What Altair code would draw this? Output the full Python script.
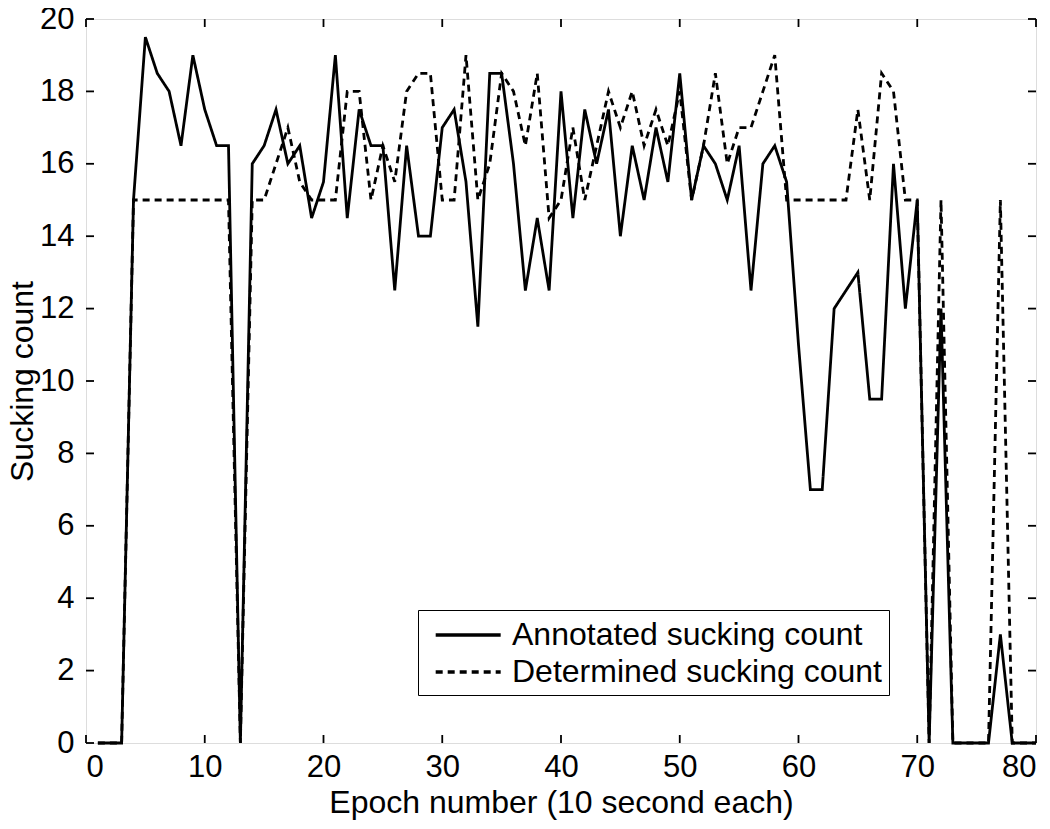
import altair as alt
import pandas as pd

epochs = list(range(1, 81))

annotated = [
    0, 0, 0, 15, 19.5, 18.5, 18, 16.5, 19, 17.5,
    16.5, 16.5, 0, 16, 16.5, 17.5, 16, 16.5, 14.5, 15.5,
    19, 14.5, 17.5, 16.5, 16.5, 12.5, 16.5, 14, 14, 17,
    17.5, 15.5, 11.5, 18.5, 18.5, 16, 12.5, 14.5, 12.5, 18,
    14.5, 17.5, 16, 17.5, 14, 16.5, 15, 17, 15.5, 18.5,
    15, 16.5, 16, 15, 16.5, 12.5, 16, 16.5, 15.5, 11,
    7, 7, 12, 12.5, 13, 9.5, 9.5, 16, 12, 15,
    0, 12, 0, 0, 0, 0, 3, 0, 0, 0,
]

determined = [
    0, 0, 0, 15, 15, 15, 15, 15, 15, 15,
    15, 15, 0, 15, 15, 16, 17, 15.5, 15, 15,
    15, 18, 18, 15, 16.5, 15.5, 18, 18.5, 18.5, 15,
    15, 19, 15, 16, 18.5, 18, 16.5, 18.5, 14.5, 15,
    17, 15, 16.5, 18, 17, 18, 16.5, 17.5, 16.5, 18,
    15, 16.5, 18.5, 16, 17, 17, 18, 19, 15, 15,
    15, 15, 15, 15, 17.5, 15, 18.5, 18, 15, 15,
    0, 15, 0, 0, 0, 0, 15, 0, 0, 0,
]

series_names = ["Annotated sucking count", "Determined sucking count"]
x_ticks = [0, 10, 20, 30, 40, 50, 60, 70, 80]
y_ticks = [0, 2, 4, 6, 8, 10, 12, 14, 16, 18, 20]

W, H = 950, 724
FONT = "Liberation Sans"
FS = 32
TL = 8  # inward tick length

df = pd.DataFrame({
    "Epoch": epochs * 2,
    "Count": annotated + determined,
    "Series": [series_names[0]] * len(epochs) + [series_names[1]] * len(epochs),
})

xscale = alt.Scale(domain=[0, 80], nice=False, zero=False)
yscale = alt.Scale(domain=[0, 20], nice=False, zero=False)

x_axis = alt.Axis(values=x_ticks, title="Epoch number (10 second each)", grid=False,
                  ticks=False, domain=False, labelFlush=True, labelPadding=9,
                  labelFontSize=31, titleFontSize=FS, titleFontWeight="normal",
                  titlePadding=5, labelColor="black", titleColor="black",
                  labelFont=FONT, titleFont=FONT)
y_axis = alt.Axis(values=y_ticks, title="Sucking count", grid=False,
                  ticks=False, domain=False, labelFlush=False, labelPadding=12,
                  labelFontSize=31, titleFontSize=FS, titleFontWeight="normal",
                  titlePadding=0, labelColor="black", titleColor="black",
                  labelFont=FONT, titleFont=FONT)

lines = alt.Chart(df).mark_line(color="black", strokeWidth=2.8, strokeJoin="miter").encode(
    x=alt.X("Epoch:Q", scale=xscale, axis=x_axis),
    y=alt.Y("Count:Q", scale=yscale, axis=y_axis),
    strokeDash=alt.StrokeDash(
        "Series:N",
        scale=alt.Scale(domain=series_names, range=[[1, 0], [7, 5]]),
        legend=alt.Legend(
            title=None, orient="none", legendX=332, legendY=591,
            symbolType="M-0.45,0H3.55", symbolSize=1056, symbolStrokeWidth=3.5,
            symbolStrokeColor="black", symbolFillColor="transparent",
            labelFontSize=FS, labelFont=FONT,
            labelColor="black", labelOffset=51, rowPadding=3, padding=7,
            strokeColor="black", fillColor="white", labelLimit=600,
        ),
    ),
)

xt = pd.DataFrame({"Epoch": x_ticks})
yt = pd.DataFrame({"Count": y_ticks})

tick_style = dict(color="black", strokeWidth=1.8)

bottom_ticks = alt.Chart(xt).mark_rule(**tick_style).encode(
    x=alt.X("Epoch:Q", scale=xscale, axis=x_axis), y=alt.value(H), y2=alt.value(H - TL))
top_ticks = alt.Chart(xt).mark_rule(**tick_style).encode(
    x=alt.X("Epoch:Q", scale=xscale, axis=x_axis), y=alt.value(0), y2=alt.value(TL))
left_ticks = alt.Chart(yt).mark_rule(**tick_style).encode(
    y=alt.Y("Count:Q", scale=yscale, axis=y_axis), x=alt.value(0), x2=alt.value(TL))
right_ticks = alt.Chart(yt).mark_rule(**tick_style).encode(
    y=alt.Y("Count:Q", scale=yscale, axis=y_axis), x=alt.value(W), x2=alt.value(W - TL))

chart = alt.layer(bottom_ticks, top_ticks, left_ticks, right_ticks, lines).properties(
    width=W, height=H,
    autosize=alt.AutoSizeParams(type="none"),
    padding={"left": 78, "top": 11, "right": 6, "bottom": 86},
).configure_view(
    stroke="black", strokeWidth=2
).configure(
    font=FONT, background="white"
)

chart.save("out.html", embed_options={"renderer": "svg", "actions": False})
